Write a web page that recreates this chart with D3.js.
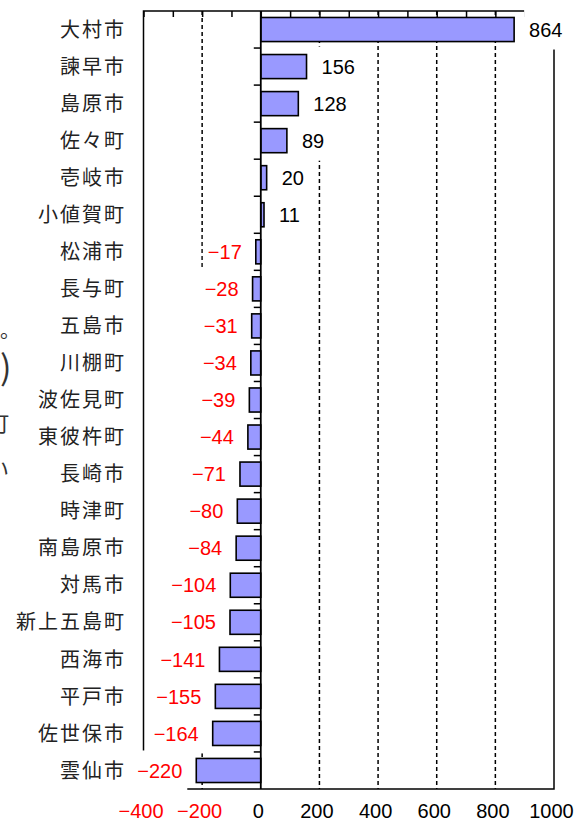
<!DOCTYPE html>
<html><head><meta charset="utf-8">
<script src="https://cdn.jsdelivr.net/npm/d3@7"></script>
<style>body{margin:0;background:#fff;} svg{display:block}</style>
</head><body>
<svg id="chart" width="585" height="823"></svg>
<script>
const categories = ["大村市","諫早市","島原市","佐々町","壱岐市","小値賀町","松浦市","長与町","五島市","川棚町","波佐見町","東彼杵町","長崎市","時津町","南島原市","対馬市","新上五島町","西海市","平戸市","佐世保市","雲仙市"];
const values = [864,156,128,89,20,11,-17,-28,-31,-34,-39,-44,-71,-80,-84,-104,-105,-141,-155,-164,-220];
const xTicks = [-400,-200,0,200,400,600,800,1000];
const gridValues = [-200,200,400,600,800];
const minorTicks = d3.range(-400, 1001, 100);
const strayText = ["。", ")", "町", "い"];

const svg = d3.select("#chart");
const yTop = 11, yBottom = 789;
const x = d3.scaleLinear().domain([-400, 1000]).range([143.5, 554]);
const y = d3.scaleBand().domain(categories).range([yTop, yBottom]).paddingInner(0.35).paddingOuter(0.175);
const numFont = "'Liberation Sans', Arial, sans-serif";
const fmt = d => d < 0 ? "\u2212" + Math.abs(d) : String(d);
const data = categories.map((c, i) => ({c, v: values[i]}));

// gridlines
svg.append("g").selectAll("line").data(gridValues).join("line")
  .attr("x1", d => x(d)).attr("x2", d => x(d)).attr("y1", yTop).attr("y2", yBottom)
  .attr("stroke", "#000").attr("stroke-width", 1.5).attr("stroke-dasharray", "4,3");

// frame
svg.append("rect").attr("x", x(-400)).attr("y", yTop)
  .attr("width", x(1000) - x(-400)).attr("height", yBottom - yTop)
  .attr("fill", "none").attr("stroke", "#000").attr("stroke-width", 1.5);

// top minor ticks
const topAxis = svg.append("g").attr("transform", `translate(0,${yTop})`)
  .call(d3.axisTop(x).tickValues(minorTicks).tickSize(-6).tickFormat(""));
topAxis.select(".domain").remove();
topAxis.selectAll("line").attr("stroke", "#000").attr("stroke-width", 1.5);

// bottom tick labels
const bAxis = svg.append("g").attr("transform", `translate(0,${yBottom})`)
  .call(d3.axisBottom(x).tickValues(xTicks).tickSize(0).tickPadding(15).tickFormat(fmt));
bAxis.select(".domain").remove();
bAxis.selectAll("text").attr("font-family", numFont).attr("font-size", 20).attr("dx", -3)
  .attr("fill", d => d < 0 ? "#ff0000" : "#000");

const boxG = svg.append("g");
const barG = svg.append("g");
const axG = svg.append("g");
const lblG = svg.append("g");

// value labels
const lbls = lblG.selectAll("text").data(data).join("text")
  .attr("x", d => d.v >= 0 ? x(d.v) + 15 : x(d.v) - 14)
  .attr("y", d => y(d.c) + y.bandwidth() / 2)
  .attr("dy", "0.36em")
  .attr("text-anchor", d => d.v >= 0 ? "start" : "end")
  .attr("font-family", numFont).attr("font-size", 20)
  .attr("fill", d => d.v < 0 ? "#ff0000" : "#000")
  .text(d => fmt(d.v));
lbls.each(function(d) {
  const b = this.getBBox();
  boxG.append("rect").attr("x", b.x - 5).attr("width", b.width + 10)
    .attr("y", y(d.c) + y.bandwidth() / 2 - 20).attr("height", 40).attr("fill", "#fff");
});

// bars
barG.selectAll("rect").data(data).join("rect")
  .attr("x", d => x(Math.min(0, d.v))).attr("width", d => Math.abs(x(d.v) - x(0)))
  .attr("y", d => y(d.c)).attr("height", y.bandwidth())
  .attr("fill", "#9999ff").attr("stroke", "#000").attr("stroke-width", 1.6);

// zero axis with category ticks
const gap = y.step() - y.bandwidth();
axG.append("line").attr("x1", x(0)).attr("x2", x(0)).attr("y1", yTop).attr("y2", yBottom)
  .attr("stroke", "#000").attr("stroke-width", 1.8);
axG.selectAll("line.tk").data(categories.slice(1)).join("line").attr("class", "tk")
  .attr("x1", x(0) - 7).attr("x2", x(0))
  .attr("y1", d => y(d) - gap / 2).attr("y2", d => y(d) - gap / 2)
  .attr("stroke", "#000").attr("stroke-width", 1.5);

// category labels
svg.append("g").selectAll("text").data(categories).join("text")
  .attr("x", 126).attr("y", d => y(d) + y.bandwidth() / 2).attr("dy", "0.36em")
  .attr("text-anchor", "end").attr("letter-spacing", 2)
  .attr("font-family", "'Noto Sans CJK JP', sans-serif").attr("font-size", 20)
  .attr("fill", "#222").text(d => d);

// text fragments at the left edge (cropped from the source page)
const strayY = [338, 368, 424, 470];
const straySize = [20, 34, 22, 22];
const strayX = [0, 0, 9, 9];
svg.append("g").selectAll("text").data(strayText).join("text")
  .attr("x", (d, i) => strayX[i])
  .attr("text-anchor", (d, i) => i < 2 ? "start" : "end")
  .attr("y", (d, i) => strayY[i]).attr("dy", (d, i) => i === 0 ? "0" : "0.34em")
  .attr("font-family", "'Noto Sans CJK JP', sans-serif")
  .attr("font-size", (d, i) => straySize[i]).attr("fill", "#333").text(d => d);
</script>
</body></html>
